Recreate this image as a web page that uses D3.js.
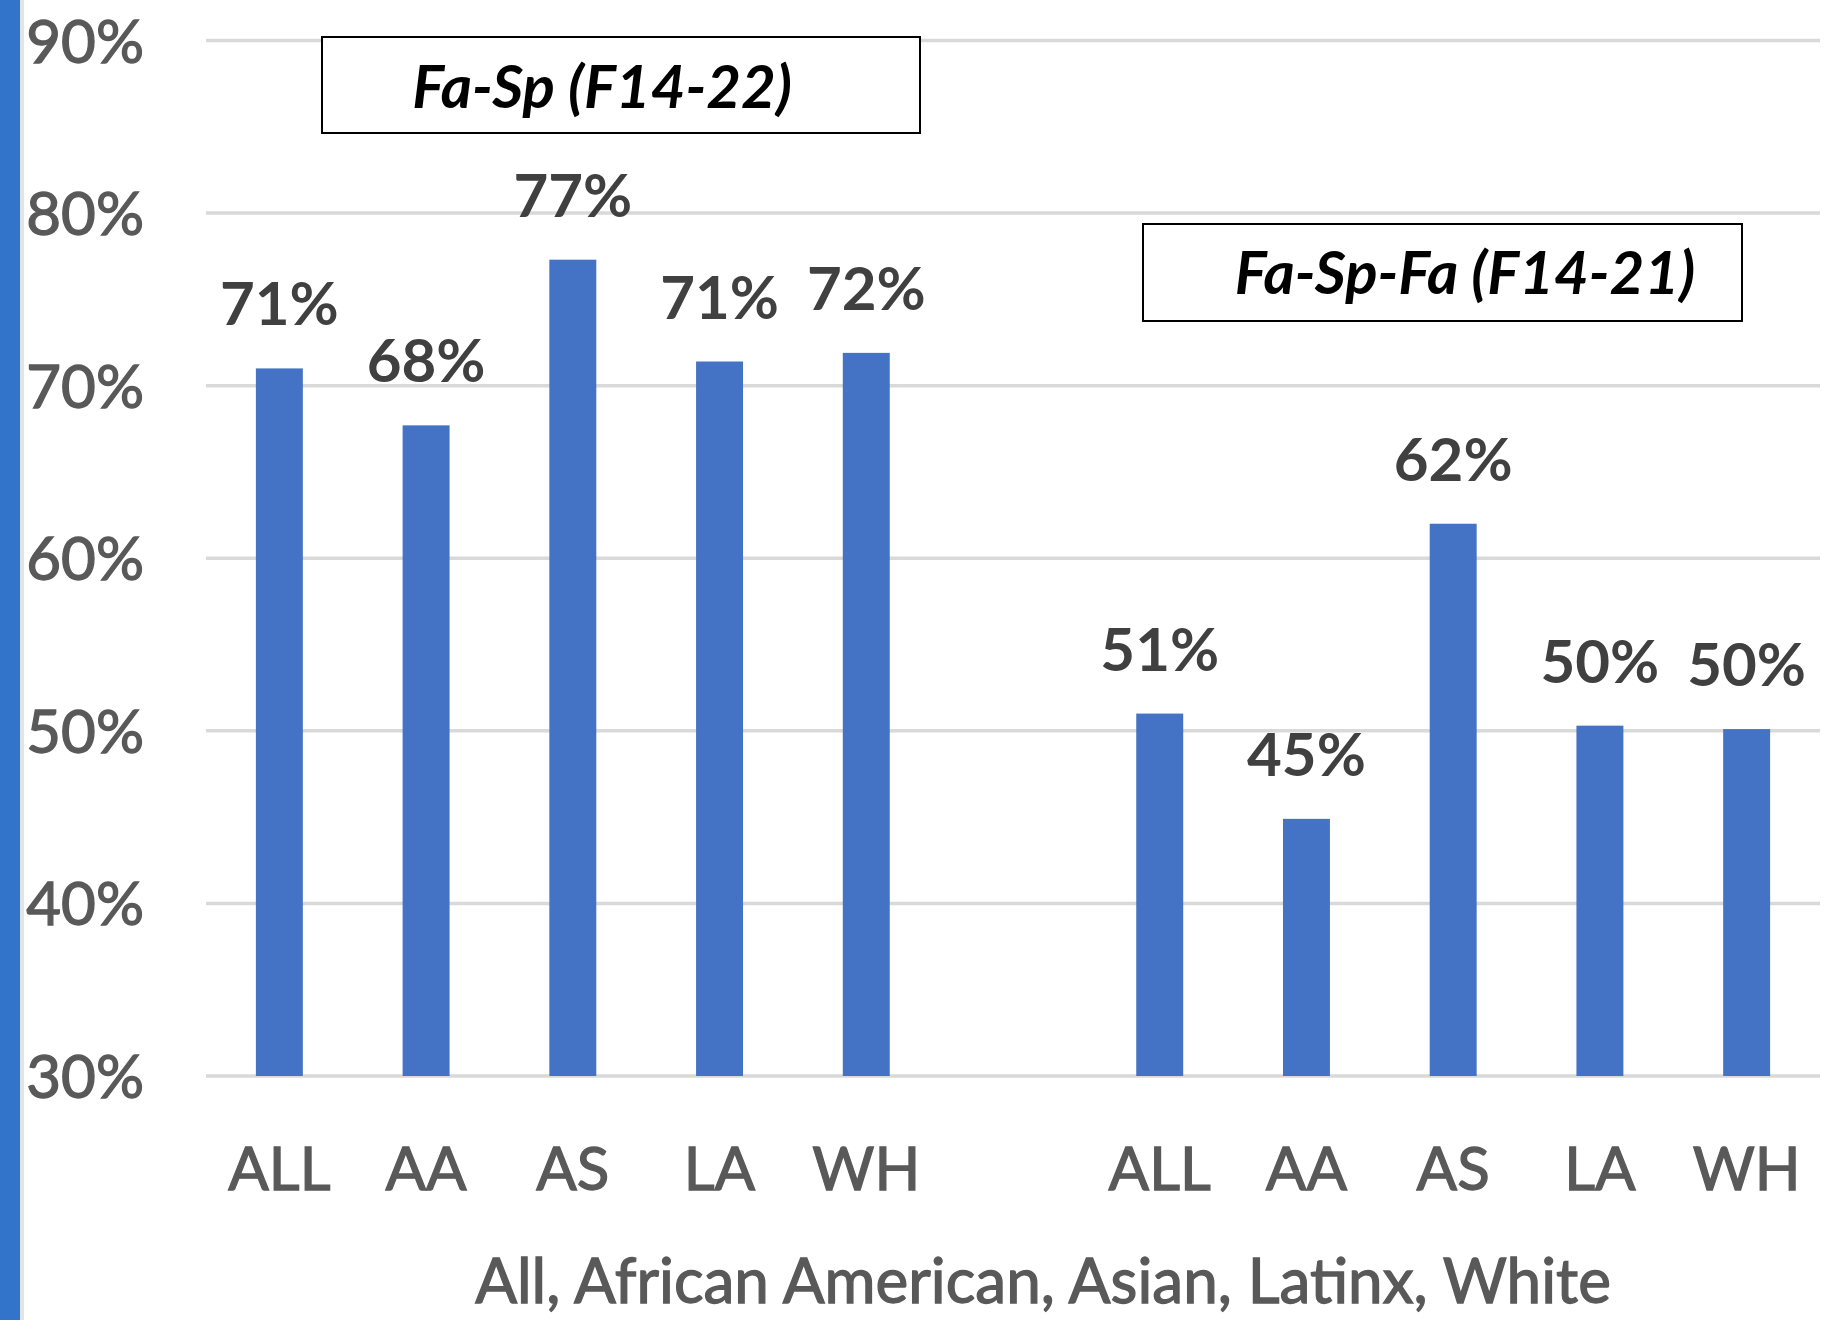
<!DOCTYPE html>
<html>
<head>
<meta charset="utf-8">
<script src="https://cdn.jsdelivr.net/npm/d3@7"></script>
<style>
  body { margin: 0; background: #fff; }
  svg { display: block; font-family: Lato, "Open Sans", sans-serif; }
  .axis-text { fill: #595959; stroke: #595959; stroke-width: 1.3px; }
</style>
</head>
<body>
<div id="chart"></div>
<script>
// values
const categories = ["ALL", "AA", "AS", "LA", "WH"];
const groupNames = ["Fa-Sp (F14-22)", "Fa-Sp-Fa (F14-21)"];
const faSpValues = [71.0, 67.7, 77.3, 71.4, 71.9];
const faSpFaValues = [51.0, 44.9, 62.0, 50.3, 50.1];
const yTicks = [30, 40, 50, 60, 70, 80, 90];
const xTitle = "All, African American, Asian, Latinx, White";

const width = 1844, height = 1320;
const plotLeft = 206, plotRight = 1820, plotTop = 40.5, plotBottom = 1076;

const rows = [
  ...categories.map((c, i) => ({ key: "g0-" + c, cat: c, value: faSpValues[i] })),
  { key: "gap", cat: "", value: null },
  ...categories.map((c, i) => ({ key: "g1-" + c, cat: c, value: faSpFaValues[i] })),
];

const svg = d3.select("#chart").append("svg")
    .attr("width", width)
    .attr("height", height);

// left accent stripe
svg.append("rect").attr("x", 0).attr("y", 0).attr("width", 20).attr("height", height).attr("fill", "#3174c9");
svg.append("rect").attr("x", 20).attr("y", 0).attr("width", 4).attr("height", height).attr("fill", "#e3e3e3");

const x = d3.scaleBand()
    .domain(rows.map(d => d.key))
    .range([plotLeft, plotRight])
    .paddingInner(0.68)
    .paddingOuter(0.34);

const y = d3.scaleLinear()
    .domain([30, 90])
    .range([plotBottom, plotTop]);

// gridlines
svg.append("g")
  .selectAll("line")
  .data(yTicks)
  .join("line")
    .attr("x1", plotLeft)
    .attr("x2", plotRight)
    .attr("y1", d => y(d))
    .attr("y2", d => y(d))
    .attr("stroke", "#d9d9d9")
    .attr("stroke-width", 3.5);

// y labels
svg.append("g")
  .selectAll("text")
  .data(yTicks)
  .join("text")
    .attr("class", "axis-text")
    .attr("x", 144)
    .attr("y", d => y(d) + 22)
    .attr("text-anchor", "end")
    .attr("font-size", 60)
    .text(d => d + "%");

const bars = rows.filter(d => d.value !== null);

svg.append("g")
  .selectAll("rect")
  .data(bars)
  .join("rect")
    .attr("x", d => x(d.key))
    .attr("y", d => y(d.value))
    .attr("width", x.bandwidth())
    .attr("height", d => y(30) - y(d.value))
    .attr("fill", "#4472c4");

// data labels
svg.append("g")
  .selectAll("text")
  .data(bars)
  .join("text")
    .attr("x", d => x(d.key) + x.bandwidth() / 2)
    .attr("y", d => y(d.value) - 43)
    .attr("text-anchor", "middle")
    .attr("fill", "#404040")
    .attr("font-weight", 700)
    .attr("font-size", 60)
    .text(d => Math.round(d.value) + "%");

// category labels
svg.append("g")
  .selectAll("text")
  .data(bars)
  .join("text")
    .attr("class", "axis-text")
    .attr("x", d => x(d.key) + x.bandwidth() / 2)
    .attr("y", 1190)
    .attr("text-anchor", "middle")
    .attr("font-size", 60)
    .text(d => d.cat);

svg.append("text")
    .attr("class", "axis-text")
    .attr("x", 1043)
    .attr("y", 1303)
    .attr("text-anchor", "middle")
    .attr("font-size", 62)
    .text(xTitle);

// group annotation boxes
const boxes = [
  { name: groupNames[0], x: 322, y: 37, w: 598, h: 96, tx: 602, ty: 108 },
  { name: groupNames[1], x: 1143, y: 224, w: 599, h: 97, tx: 1465, ty: 294 },
];
const bx = svg.append("g").selectAll("g").data(boxes).join("g");
bx.append("rect")
    .attr("x", d => d.x)
    .attr("y", d => d.y)
    .attr("width", d => d.w)
    .attr("height", d => d.h)
    .attr("fill", "#fff")
    .attr("stroke", "#000")
    .attr("stroke-width", 2);
bx.append("text")
    .attr("x", d => d.tx)
    .attr("y", d => d.ty)
    .attr("text-anchor", "middle")
    .attr("font-size", 60)
    .attr("font-weight", 700)
    .attr("font-style", "italic")
    .attr("fill", "#000")
    .text(d => d.name);
</script>
</body>
</html>
